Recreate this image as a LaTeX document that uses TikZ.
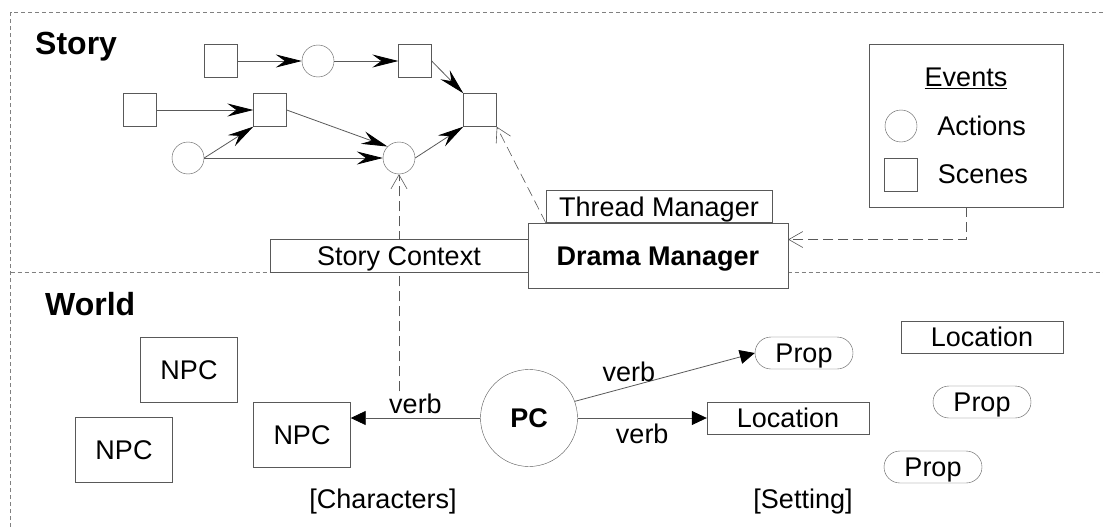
\documentclass[tikz,border=0pt]{standalone}
\usepackage{fontspec}
\setmainfont{Liberation Sans}
\usetikzlibrary{arrows.meta,positioning}

\newcommand{\figfont}{\fontsize{27pt}{32pt}\selectfont}
\newcommand{\headfont}{\fontsize{32pt}{38pt}\selectfont\bfseries}
\definecolor{linegray}{gray}{0.35}
\definecolor{sepgray}{gray}{0.5}

\begin{document}
\begin{tikzpicture}[x=1pt,y=1pt,
    every node/.style={font=\figfont,inner sep=2pt},
    scene/.style={draw=linegray,fill=white,minimum width=33pt,minimum height=33pt,inner sep=0pt},
    action/.style={circle,draw=linegray,fill=white,minimum size=32pt,inner sep=0pt},
    box/.style={draw=linegray,fill=white,text height=19pt,text depth=0pt,inner sep=0pt},
    prop/.style={box,rounded corners=16pt,minimum width=98pt,minimum height=32pt},
    place/.style={box,minimum width=162pt,minimum height=32pt},
    npc/.style={box,minimum width=97pt,minimum height=65pt},
    flow/.style={draw=linegray,line width=0.8pt,-{Stealth[length=26pt,width=13pt,inset=9pt,black]}},
    act/.style={draw=linegray,line width=0.8pt,-{Triangle[length=15pt,width=14pt,black]}},
    link/.style={draw=linegray,line width=0.6pt,dash pattern=on 10pt off 5pt,-{Straight Barb[length=14pt,width=16pt]}},
    sep/.style={draw=sepgray,line width=0.8pt,dash pattern=on 4pt off 3pt}]
      \useasboundingbox (0,0) rectangle (1103,-527);

      % story / world split
      \draw[sep] (10.7,-527) -- (10.7,-12.7) -- (1103,-12.7);
      \draw[sep] (10.7,-272) -- (1103,-272);
      \node[font=\headfont,anchor=base west,inner sep=0pt] (story) at (35,-55) {Story};
      \node[font=\headfont,anchor=base west,inner sep=0pt] (world) at (45,-315) {World};

      % story graph
      \node[scene] (s1) at (221,-61) {};
      \node[action] (a1) at (318,-61) {};
      \node[scene] (s2) at (415,-61) {};
      \node[scene] (s3) at (140,-110) {};
      \node[scene] (s4) at (270,-110) {};
      \node[scene] (s5) at (480,-110) {};
      \node[action] (a2) at (188,-158) {};
      \node[action] (a3) at (399,-158) {};

      \path (s1) edge[flow] (a1)
            (a1) edge[flow] (s2)
            (s2.east) edge[flow] (s5.north west)
            (s3) edge[flow] (s4)
            (a2.east) edge[flow] (s4.south west)
            (a2) edge[flow] (a3)
            (s4.east) edge[flow] (a3.north west)
            (a3.east) edge[flow] (s5.south west);

      % world
      \node[npc] (npca) at (189,-370) {NPC};
      \node[npc] (npcb) at (124,-450) {NPC};
      \node[npc] (npcc) at (302,-434.5) {NPC};
      \node[circle,draw=linegray,fill=white,minimum size=97pt,inner sep=0pt,font=\figfont\bfseries] (pc) at (529,-418) {PC};
      \node[prop] (prop1) at (804,-353) {Prop};
      \node[place] (loc1) at (788,-418) {Location};
      \node[place] (loc2) at (982,-337) {Location};
      \node[prop] (prop2) at (982,-402) {Prop};
      \node[prop] (prop3) at (933,-467) {Prop};
      \node (chars) at (383,-502) {[Characters]};
      \node (setting) at (803,-502) {[Setting]};

      \path (pc.west) edge[act] node[above=2pt] (lverb) {verb} (pc.west -| npcc.east)
            (pc.20) edge[act] node[above=3pt,pos=0.3] (pverb) {verb} (prop1.west)
            (pc.east) edge[act] node[below=4pt] (rverb) {verb} (loc1.west);

      \draw[link] (lverb.north -| a3) -- (a3);

      % managers
      \node[box,minimum width=258pt,minimum height=33pt] (context) at (399,-255.5) {Story Context};
      \node[box,minimum width=260pt,minimum height=65pt] (dm) at (658,-255.5) {};
      \node[box,minimum width=226pt,minimum height=32pt,above left=0pt and 16pt of dm.north east] (tm) {Thread Manager};
      \node[box,minimum width=260pt,minimum height=65pt,font=\figfont\bfseries] (dm) at (658,-255.5) {Drama Manager};

      % legend
      \node[draw=linegray,minimum width=194pt,minimum height=163pt] (legend) at (966,-125.5) {};
      \node (events) at (966,-78) {\underline{Events}};
      \node[action] (lact) at (901,-126) {};
      \node[scene] (lscene) at (901,-174.5) {};
      \node[right=18pt of lact] (actions) {Actions};
      \node[right=18pt of lscene] (scenes) {Scenes};

      \draw[link] (tm.south west) -- (s5.south east);
      \draw[link] (legend.south) |- (dm.7);
    \end{tikzpicture}
\end{document}
